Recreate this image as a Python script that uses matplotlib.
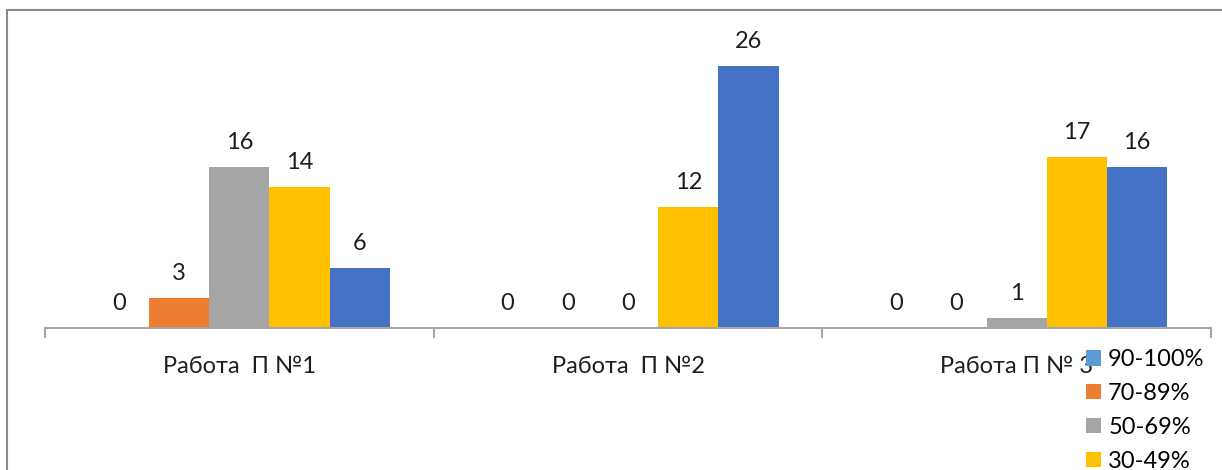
import numpy as np
import matplotlib.pyplot as plt
from matplotlib.patches import Rectangle

# data
works = ["Работа  П №1", "Работа  П №2", "Работа П № 3"]
series_names = ["90-100%", "70-89%", "50-69%", "30-49%", "0-29%"]
s_90_100 = [0, 0, 0]
s_70_89 = [3, 0, 0]
s_50_69 = [16, 0, 1]
s_30_49 = [14, 12, 17]
s_0_29 = [6, 26, 16]
values = [s_90_100, s_70_89, s_50_69, s_30_49, s_0_29]
colors = ["#5B9BD5", "#ED7D31", "#A5A5A5", "#FFC000", "#4472C4"]

plt.rcParams['font.family'] = ['Lato', 'DejaVu Sans']

fig = plt.figure(figsize=(12.22, 4.70), dpi=100)
ax = fig.add_axes([45/1222, 142/470, 1166/1222, 302/470])

x = np.arange(len(works))
w = 0.155
handles = []
for i, (name, vals, c) in enumerate(zip(series_names, values, colors)):
    bars = ax.bar(x + (i - 2) * w, vals, w, color=c, label=name)
    ax.bar_label(bars, padding=10, fontsize=17, color='#1e1e1e')
    handles.append(bars)

ax.set_xlim(-0.5, 2.5)
ax.set_ylim(0, 30)
for s in ['top', 'left', 'right']:
    ax.spines[s].set_visible(False)
ax.spines['bottom'].set_color('#a6a6a6')
ax.spines['bottom'].set_linewidth(1.5)
ax.set_yticks([])
ax.set_xticks([-0.5, 0.5, 1.5, 2.5])
ax.set_xticklabels([])
ax.tick_params(axis='x', which='major', length=7, width=1.5, color='#a6a6a6')
ax.set_xticks(x, minor=True)
ax.set_xticklabels(works, minor=True, fontsize=17, color='#1e1e1e')
ax.tick_params(axis='x', which='minor', length=0, pad=20)

# legend: only the first four entries fit inside the visible area
ax.legend(handles=handles[:4], loc='upper left', bbox_to_anchor=(1086/1222, 1 - 349/470),
          bbox_transform=fig.transFigure, frameon=False, fontsize=17,
          handlelength=0.64, handleheight=0.64, handletextpad=0.3,
          labelspacing=0.55, borderpad=0, borderaxespad=0)

# outer chart frame (cropped on right and bottom)
fig.patches.append(Rectangle((7/1222, -0.1), 1.2, 1.1 - 10/470, transform=fig.transFigure,
                             fill=False, edgecolor='#8a8a8a', lw=1.5))

fig.savefig("out.png", dpi=100)
